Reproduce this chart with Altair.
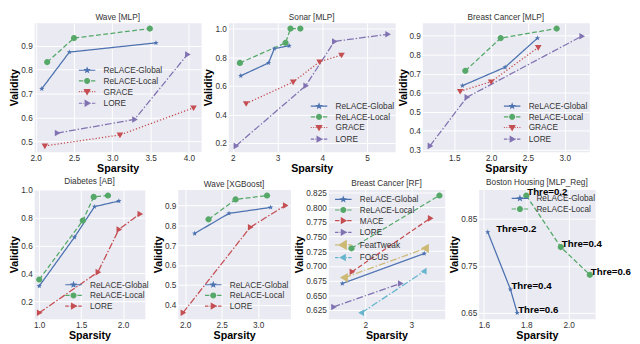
import altair as alt
import pandas as pd

# ---------------- data ----------------
# Wave [MLP]
wave_mlp_global_x = [2.08, 2.44, 3.57]
wave_mlp_global_y = [0.72, 0.874, 0.913]
wave_mlp_local_x = [2.15, 2.50, 3.49]
wave_mlp_local_y = [0.832, 0.933, 0.973]
wave_mlp_grace_x = [2.12, 3.10, 4.06]
wave_mlp_grace_y = [0.48, 0.526, 0.64]
wave_mlp_lore_x = [2.28, 3.29, 3.98]
wave_mlp_lore_y = [0.534, 0.591, 0.864]

# Sonar [MLP]
sonar_global_x = [2.18, 2.80, 2.93, 3.26]
sonar_global_y = [0.67, 0.76, 0.86, 0.88]
sonar_local_x = [2.16, 3.18, 3.29, 3.51]
sonar_local_y = [0.76, 0.90, 1.0, 1.0]
sonar_grace_x = [2.30, 3.35, 3.94, 4.43]
sonar_grace_y = [0.476, 0.627, 0.768, 0.815]
sonar_lore_x = [2.07, 3.63, 4.27, 5.46]
sonar_lore_y = [0.18, 0.60, 0.91, 0.96]

# Breast Cancer [MLP]
bcm_global_x = [1.61, 2.19, 2.63]
bcm_global_y = [0.637, 0.734, 0.887]
bcm_local_x = [1.65, 2.13, 2.89]
bcm_local_y = [0.715, 0.887, 0.937]
bcm_grace_x = [1.58, 2.00, 2.64]
bcm_grace_y = [0.608, 0.658, 0.838]
bcm_lore_x = [1.17, 1.67, 3.23]
bcm_lore_y = [0.321, 0.576, 0.897]

# Diabetes [AB]
diab_global_x = [1.0, 1.42, 1.66, 1.95]
diab_global_y = [0.31, 0.66, 0.88, 0.92]
diab_local_x = [1.0, 1.52, 1.65, 1.82]
diab_local_y = [0.357, 0.78, 0.95, 0.96]
diab_lore_x = [1.0, 1.70, 1.95, 2.20]
diab_lore_y = [0.118, 0.41, 0.716, 0.827]

# Wave [XGBoost]
wxgb_global_x = [2.13, 2.60, 3.17]
wxgb_global_y = [0.759, 0.86, 0.89]
wxgb_local_x = [2.32, 2.69, 3.12]
wxgb_local_y = [0.83, 0.93, 0.95]
wxgb_lore_x = [1.97, 2.89, 3.37]
wxgb_lore_y = [0.36, 0.79, 0.90]

# Breast Cancer [RF]
bcrf_global_x = [1.50, 3.28]
bcrf_global_y = [0.670, 0.721]
bcrf_local_x = [1.70, 3.61]
bcrf_local_y = [0.730, 0.820]
bcrf_mace_x = [1.71, 3.41]
bcrf_mace_y = [0.690, 0.781]
bcrf_lore_x = [1.31, 2.76]
bcrf_lore_y = [0.630, 0.670]
bcrf_feat_x = [1.55, 3.31]
bcrf_feat_y = [0.680, 0.730]
bcrf_focus_x = [1.92, 3.28]
bcrf_focus_y = [0.620, 0.691]

# Boston Housing [MLP_Reg]
bh_global_x = [1.618, 1.725, 1.757]
bh_global_y = [0.822, 0.70, 0.65]
bh_local_x = [1.80, 1.963, 2.10]
bh_local_y = [0.90, 0.79, 0.731]
bh_labels = ["Thre=0.2", "Thre=0.4", "Thre=0.6"]
bh_global_label_x = [1.653, 1.725, 1.757]
bh_local_label_x = [1.80, 1.963, 2.10]

# ---------------- styles ----------------
BLUE, GREEN, RED, PURPLE, YELLOW, CYAN = "#4C72B0", "#55A868", "#C44E52", "#8172B2", "#CCB974", "#64B5CD"
FONT = "Liberation Sans"

STAR = ("M0,-0.7L0.176,-0.243L0.666,-0.216L0.285,0.093L0.411,0.566L0,0.3"
        "L-0.411,0.566L-0.285,0.093L-0.666,-0.216L-0.176,-0.243Z")
CIRCLE = "M-0.8,0A0.8,0.8,0,1,0,0.8,0A0.8,0.8,0,1,0,-0.8,0Z"
TRI_DOWN = "M-0.85,-0.6L0.85,-0.6L0,0.85Z"
TRI_RIGHT = "M-0.6,-0.85L0.85,0L-0.6,0.85Z"
TRI_LEFT = "M0.6,-0.85L-0.85,0L0.6,0.85Z"
TRI_LEFT_BIG = "M0.85,-1.2L-1.2,0L0.85,1.2Z"

# legend-only symbols (line + marker), drawn at 5 px per unit
STAR_L = ("M0,-0.45L0.11,-0.155L0.43,-0.14L0.185,0.06L0.265,0.365L0,0.195"
          "L-0.265,0.365L-0.185,0.06L-0.43,-0.14L-0.11,-0.155Z")
CIRCLE_L = "M-0.5,0A0.5,0.5,0,1,0,0.5,0A0.5,0.5,0,1,0,-0.5,0Z"
TRI_DOWN_L = "M-0.55,-0.4L0.55,-0.4L0,0.55Z"
TRI_RIGHT_L = "M-0.4,-0.55L0.55,0L-0.4,0.55Z"
TRI_LEFT_L = "M0.4,-0.55L-0.55,0L0.4,0.55Z"
TRI_LEFT_BIG_L = "M0.6,-0.85L-0.85,0L0.6,0.85Z"

L_SOLID = "M-1.7,0L1.7,0"
L_DASH = "M-1.7,0L-0.8,0M-0.45,0L0.45,0M0.8,0L1.7,0"
L_DOT = "M-1.7,0L-1.5,0M-1.2,0L-1.0,0M-0.7,0L-0.5,0M0.5,0L0.7,0M1.0,0L1.2,0M1.5,0L1.7,0"
L_DASHDOT = "M-1.7,0L-1.0,0M-0.75,0L-0.6,0M-0.35,0L0.35,0M0.6,0L0.75,0M1.0,0L1.7,0"

D_SOLID = [1, 0]
D_DASH = [5, 2.5]
D_DOT = [1.3, 2]
D_DASHDOT = [7, 2, 1.5, 2]

STYLE = {
    "ReLACE-Global": (D_SOLID, STAR, L_SOLID + STAR_L),
    "ReLACE-Local": (D_DASH, CIRCLE, L_DASH + CIRCLE_L),
    "GRACE": (D_DOT, TRI_DOWN, L_DOT + TRI_DOWN_L),
    "LORE": (D_DASHDOT, TRI_RIGHT, L_DASHDOT + TRI_RIGHT_L),
    "MACE": (D_DASH, TRI_RIGHT, L_DASH + TRI_RIGHT_L),
    "FeatTweak": (D_DASHDOT, TRI_LEFT_BIG, L_DASHDOT + TRI_LEFT_BIG_L),
    "FOCUS": (D_DASHDOT, TRI_LEFT, L_DASHDOT + TRI_LEFT_L),
}


def pad(vals, frac=0.05):
    lo, hi = min(vals), max(vals)
    d = (hi - lo) * frac
    return [lo - d, hi + d]


def panel(title, series, colors, xticks, yticks, xfmt, yfmt, w, h, lx, ly,
          xdom=None, ydom=None, ann=None):
    rows = []
    for name, (xs, ys) in series.items():
        for i, (a, b) in enumerate(zip(xs, ys)):
            rows.append({"method": name, "x": a, "y": b, "i": i})
    df = pd.DataFrame(rows)
    names = list(series.keys())
    if xdom is None:
        xdom = pad(df["x"].tolist())
    if ydom is None:
        ydom = pad(df["y"].tolist())
    crange = [colors[n] for n in names]

    xenc = alt.X("x:Q", scale=alt.Scale(domain=xdom, nice=False, zero=False),
                 axis=alt.Axis(values=xticks, format=xfmt, title="Sparsity"))
    yenc = alt.Y("y:Q", scale=alt.Scale(domain=ydom, nice=False, zero=False),
                 axis=alt.Axis(values=yticks, format=yfmt, title="Validity"))
    col = alt.Color("method:N", scale=alt.Scale(domain=names, range=crange), legend=None)

    base = alt.Chart(df)
    lines = base.mark_line(strokeWidth=1.3).encode(
        x=xenc, y=yenc, color=col,
        strokeDash=alt.StrokeDash("method:N", scale=alt.Scale(domain=names, range=[STYLE[n][0] for n in names]), legend=None),
        order="i:Q",
    )
    pts = base.mark_point(filled=True, opacity=1, size=64).encode(
        x=xenc, y=yenc, color=col,
        shape=alt.Shape("method:N", scale=alt.Scale(domain=names, range=[STYLE[n][1] for n in names]), legend=None),
    )
    leg = alt.Legend(title=None, orient="none", legendX=lx, legendY=ly,
                     symbolStrokeWidth=1.2, rowPadding=0, symbolOffset=2.5, labelOffset=11, padding=0)
    lg = base.transform_filter("false").mark_point(filled=True, opacity=1, strokeWidth=1.2).encode(
        x=xenc, y=yenc,
        fill=alt.Fill("method:N", scale=alt.Scale(domain=names, range=crange), legend=leg),
        stroke=alt.Stroke("method:N", scale=alt.Scale(domain=names, range=crange), legend=leg),
        shape=alt.Shape("method:N", scale=alt.Scale(domain=names, range=[STYLE[n][2] for n in names]), legend=leg),
    )
    layers = [lines, pts]
    if ann is not None:
        adf = pd.DataFrame(ann)
        txt = alt.Chart(adf).mark_text(align="left", baseline="alphabetic", dx=1, fontSize=10,
                                       fontWeight="bold", font=FONT, color="black").encode(
            x=alt.X("x:Q"), y=alt.Y("y:Q"), text="t:N")
        layers.append(txt)
    layers.append(lg)
    ch = alt.layer(*layers).resolve_scale(
        shape="independent", fill="independent", stroke="independent"
    ).resolve_legend(shape="independent", fill="independent", stroke="independent").properties(
        width=w, height=h,
        title=alt.TitleParams(title, fontSize=8.5, fontWeight="normal", font=FONT, color="#333333",
                              offset=1, anchor="middle", frame="group"),
    )
    return ch


def c(lore_color):
    return {"ReLACE-Global": BLUE, "ReLACE-Local": GREEN, "GRACE": RED, "LORE": lore_color,
            "MACE": RED, "FeatTweak": YELLOW, "FOCUS": CYAN}


H = 133

p1 = panel("Wave [MLP]", {
    "ReLACE-Global": (wave_mlp_global_x, wave_mlp_global_y),
    "ReLACE-Local": (wave_mlp_local_x, wave_mlp_local_y),
    "GRACE": (wave_mlp_grace_x, wave_mlp_grace_y),
    "LORE": (wave_mlp_lore_x, wave_mlp_lore_y)}, c(PURPLE),
    [2.0, 2.5, 3.0, 3.5, 4.0], [0.5, 0.6, 0.7, 0.8, 0.9], ".1f", ".1f", 172, H, 46, 43)

p2 = panel("Sonar [MLP]", {
    "ReLACE-Global": (sonar_global_x, sonar_global_y),
    "ReLACE-Local": (sonar_local_x, sonar_local_y),
    "GRACE": (sonar_grace_x, sonar_grace_y),
    "LORE": (sonar_lore_x, sonar_lore_y)}, c(PURPLE),
    [2, 3, 4, 5], [0.2, 0.4, 0.6, 0.8, 1.0], "d", ".1f", 172, H, 85, 80)

p3 = panel("Breast Cancer [MLP]", {
    "ReLACE-Global": (bcm_global_x, bcm_global_y),
    "ReLACE-Local": (bcm_local_x, bcm_local_y),
    "GRACE": (bcm_grace_x, bcm_grace_y),
    "LORE": (bcm_lore_x, bcm_lore_y)}, c(PURPLE),
    [1.5, 2.0, 2.5, 3.0], [0.3, 0.4, 0.5, 0.6, 0.7, 0.8, 0.9], ".1f", ".1f", 172, H, 84, 80)

p4 = panel("Diabetes [AB]", {
    "ReLACE-Global": (diab_global_x, diab_global_y),
    "ReLACE-Local": (diab_local_x, diab_local_y),
    "LORE": (diab_lore_x, diab_lore_y)}, c(RED),
    [1.0, 1.5, 2.0], [0.2, 0.4, 0.6, 0.8, 1.0], ".1f", ".1f", 114, H, 32, 92)

p5 = panel("Wave [XGBoost]", {
    "ReLACE-Global": (wxgb_global_x, wxgb_global_y),
    "ReLACE-Local": (wxgb_local_x, wxgb_local_y),
    "LORE": (wxgb_lore_x, wxgb_lore_y)}, c(RED),
    [2.0, 2.5, 3.0], [0.4, 0.5, 0.6, 0.7, 0.8, 0.9], ".1f", ".1f", 116, H, 28, 92)

p6 = panel("Breast Cancer [RF]", {
    "ReLACE-Global": (bcrf_global_x, bcrf_global_y),
    "ReLACE-Local": (bcrf_local_x, bcrf_local_y),
    "MACE": (bcrf_mace_x, bcrf_mace_y),
    "LORE": (bcrf_lore_x, bcrf_lore_y),
    "FeatTweak": (bcrf_feat_x, bcrf_feat_y),
    "FOCUS": (bcrf_focus_x, bcrf_focus_y)}, c(PURPLE),
    [2, 3], [0.625, 0.65, 0.675, 0.7, 0.725, 0.75, 0.775, 0.8, 0.825], "d", ".3f", 120, H, 7, 4)

bh_ann = {
    "x": bh_global_label_x + bh_local_label_x,
    "y": bh_global_y + bh_local_y,
    "t": bh_labels + bh_labels,
}
p7 = panel("Boston Housing [MLP_Reg]", {
    "ReLACE-Global": (bh_global_x, bh_global_y),
    "ReLACE-Local": (bh_local_x, bh_local_y)}, c(PURPLE),
    [1.6, 1.8, 2.0], [0.65, 0.7, 0.75, 0.8, 0.85, 0.9], ".1f", ".2f", 120, H, 34, 3,
    xdom=[1.575, 2.125], ydom=[0.6375, 0.9125], ann=bh_ann)

IND = dict(color="independent", fill="independent", stroke="independent",
           shape="independent", strokeDash="independent")

top = alt.hconcat(p1, p2, p3, spacing=0).resolve_scale(**IND).resolve_legend(**IND)
bottom = alt.hconcat(p4, p5, p6, p7, spacing=2).resolve_scale(**IND).resolve_legend(**IND)

chart = alt.vconcat(top, bottom, spacing=2).resolve_scale(**IND).resolve_legend(**IND).properties(
    padding={"left": 0, "top": 0, "right": 0, "bottom": 0}
).configure_view(
    fill="#EAEAF2", stroke="transparent"
).configure_axis(
    domain=False, ticks=False, tickSize=0, grid=True, gridColor="white", gridWidth=1,
    labelFont=FONT, labelFontSize=8.5, labelColor="#333333", labelPadding=2,
    labelFlush=False, labelOverlap=False,
    titleFont=FONT, titleFontSize=11, titleFontWeight="bold", titleColor="black", titlePadding=1,
).configure_legend(
    labelFont=FONT, labelFontSize=8.5, labelColor="#333333",
    symbolStrokeWidth=1.2, padding=0, rowPadding=0, symbolOffset=2.5, labelOffset=11,
)

chart.save("out.html", embed_options={"renderer": "svg", "actions": False})
